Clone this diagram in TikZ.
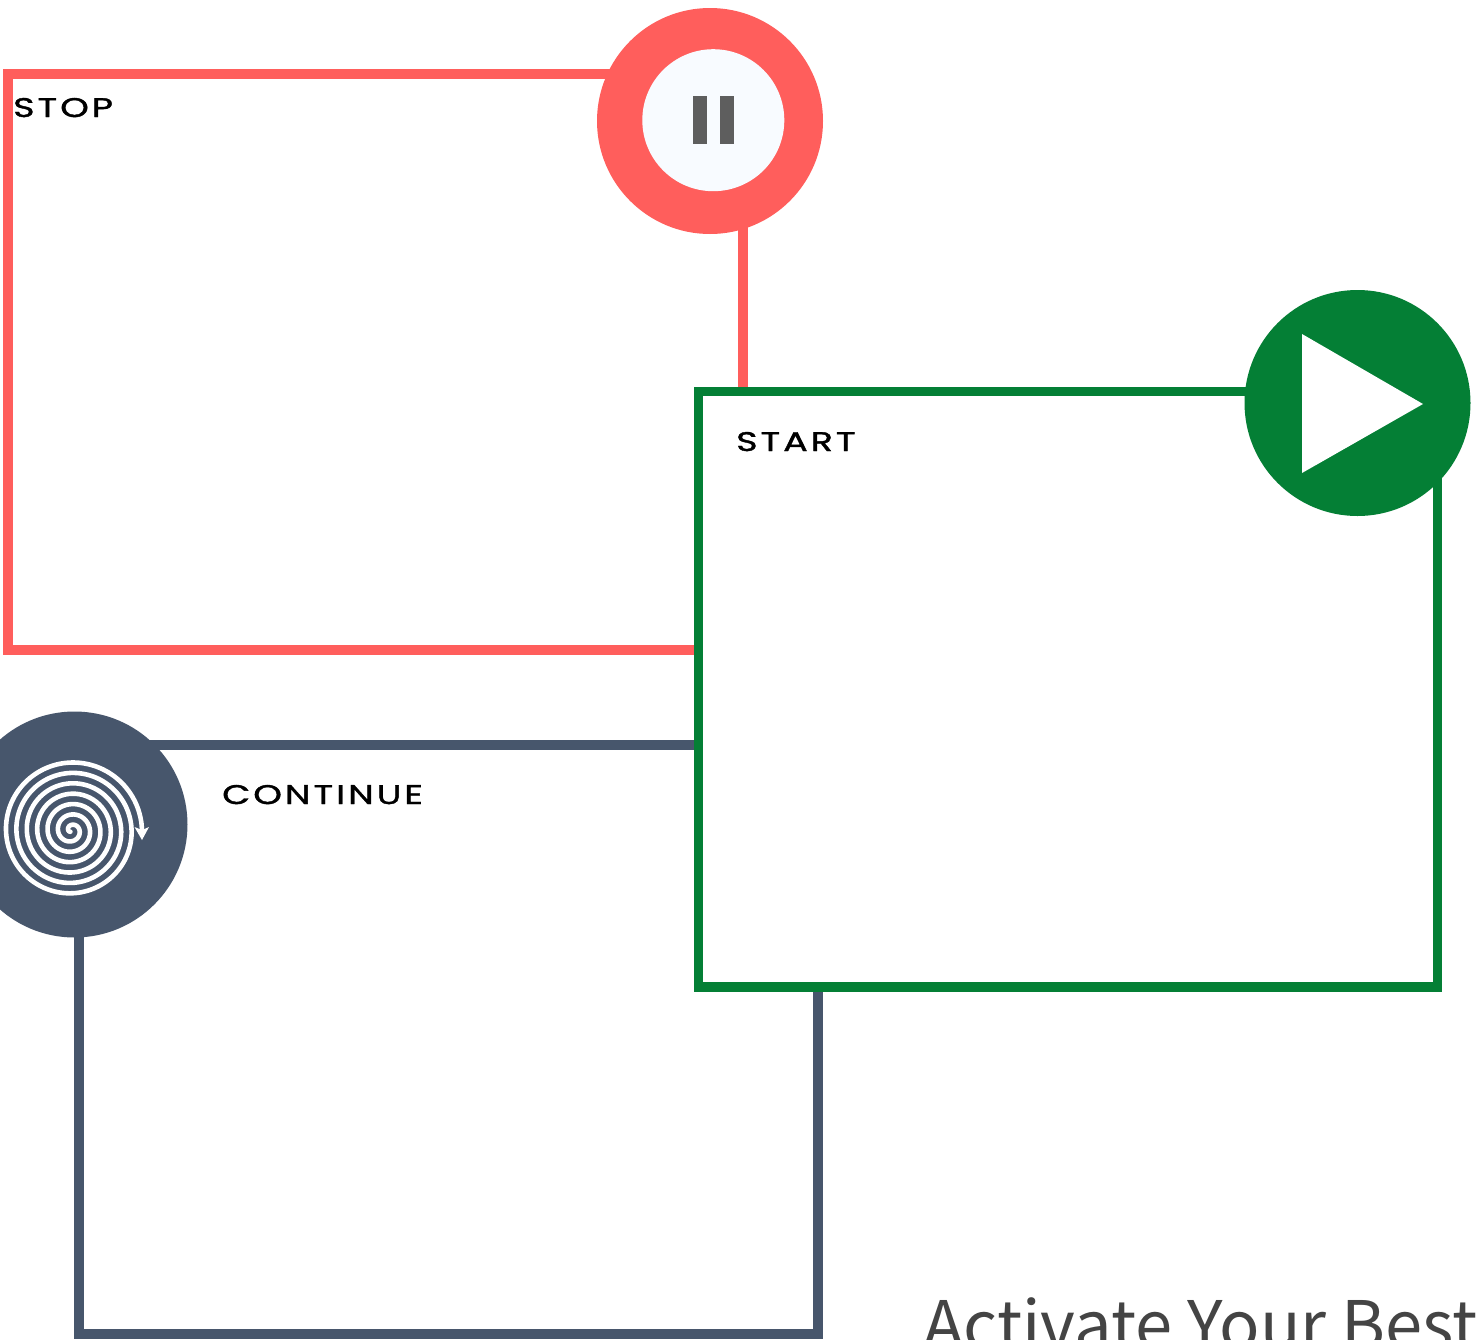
\documentclass[tikz,border=0pt]{standalone}
\usepackage{fontspec}
\newfontfamily\labelfont[LetterSpace=11,FakeStretch=1.35,FakeBold=1.4]{Poppins}
\newfontfamily\titlefont{Noto Sans CJK SC}
\definecolor{redc}{HTML}{FF5E5C}
\definecolor{greenc}{HTML}{047F35}
\definecolor{slatec}{HTML}{47566C}
\definecolor{paused}{HTML}{F8FBFF}
\definecolor{barc}{HTML}{5E5E5E}
\definecolor{titlec}{HTML}{444444}
\tikzset{
  panel/.style={draw=#1,line width=9.3pt,rectangle,inner sep=0pt,outer sep=0pt},
  disc/.style={fill=#1,circle,inner sep=0pt,outer sep=0pt,minimum size=226pt},
  tag/.style={anchor=base west,inner sep=0pt,font=\labelfont\fontsize{27}{27}\selectfont,text=black}
}
\begin{document}
\begin{tikzpicture}[x=1pt,y=-1pt]
\useasboundingbox[fill=white] (0,0) rectangle (1482,1339);
% panels
\node[panel=redc,minimum width=735pt,minimum height=576pt] (stopbox) at (375.5,362) {};
\node[panel=slatec,minimum width=739pt,minimum height=589pt] (contbox) at (448.5,1039.5) {};
\node[panel=greenc,fill=white,minimum width=739pt,minimum height=595.5pt] (startbox) at (1068,689.25) {};
% discs
\node[disc=redc] (stopdisc) at (710,121) {};
\node[disc=greenc] (startdisc) at (1357.5,403) {};
\node[disc=slatec] (contdisc) at (74.5,824.5) {};
% pause icon
\node[fill=paused,circle,inner sep=0pt,minimum size=142pt] (pausebg) at (713.3,120.2) {};
\node[fill=barc,inner sep=0pt,minimum width=14pt,minimum height=48pt] (barl) at (700,120) {};
\node[fill=barc,inner sep=0pt,minimum width=14pt,minimum height=48pt] (barr) at (727,120) {};
% play icon
\fill[white] (1302,334) -- (1423,404) -- (1302,473) -- cycle;
% spiral icon
\draw[white,line width=4.6pt,line cap=round,line join=round]
  plot[smooth,samples=420,domain=130:2520,variable=\t]
  ({71.4+(70.6-10.4*((2520-\t)/360))*cos(\t)},{830.5+(70.6-10.4*((2520-\t)/360))*sin(\t)});
\fill[white] (134.5,827) -- (142,830) -- (149,827) -- (142,840) -- cycle;
% labels
\node[tag] (stoplabel) at (13,117) {STOP};
\node[tag] (startlabel) at (736,451) {START};
\node[tag] (contlabel) at (222,804) {CONTINUE};
\node[anchor=base west,inner sep=0pt,text=titlec,font=\titlefont\fontsize{66.9}{66.9}\selectfont] (title) at (923,1349) {Activate Your Best};
\end{tikzpicture}
\end{document}
